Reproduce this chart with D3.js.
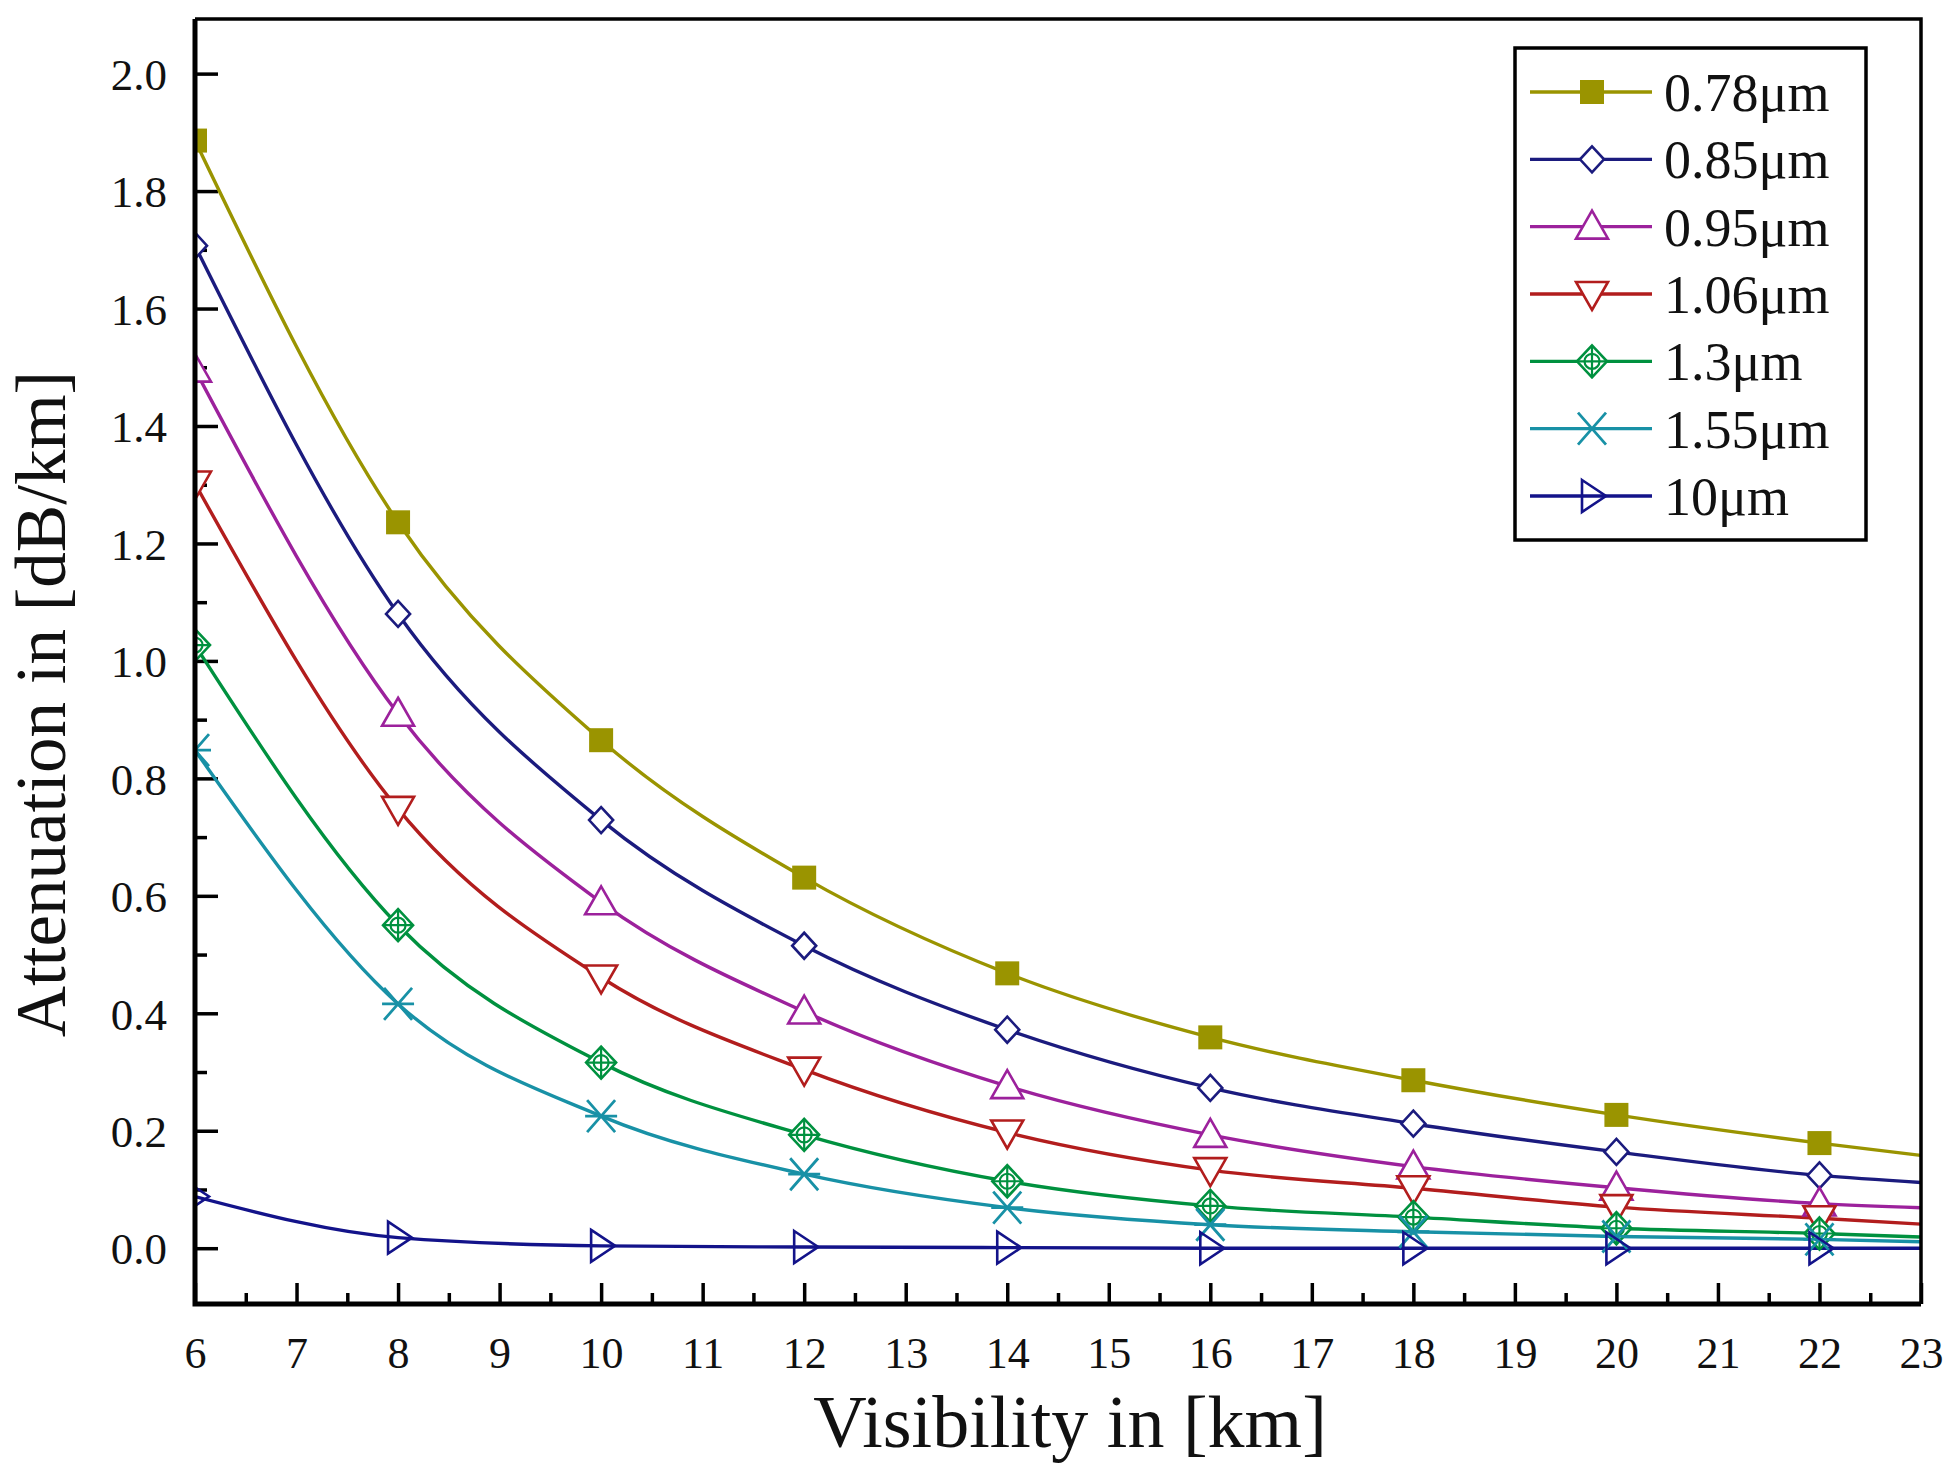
<!DOCTYPE html>
<html>
<head>
<meta charset="utf-8">
<script src="https://cdn.jsdelivr.net/npm/d3@7"></script>
<style>
  body { margin: 0; background: #fff; }
  svg { display: block; }
  text { font-family: "Liberation Serif", "Times New Roman", serif; fill: #111; }
</style>
</head>
<body>
<div id="chart"></div>
<script>
// values (attenuation in dB/km)
const visibility = [6, 8, 10, 12, 14, 16, 18, 20, 22, 23];
const att078 = [1.886, 1.236, 0.865, 0.631, 0.468, 0.359, 0.286, 0.227, 0.179, 0.158];
const att085 = [1.707, 1.080, 0.729, 0.515, 0.372, 0.273, 0.212, 0.164, 0.124, 0.112];
const att095 = [1.496, 0.910, 0.589, 0.403, 0.276, 0.193, 0.139, 0.103, 0.076, 0.069];
const att106 = [1.302, 0.748, 0.461, 0.304, 0.197, 0.133, 0.102, 0.070, 0.051, 0.041];
const att130 = [1.027, 0.550, 0.316, 0.193, 0.114, 0.072, 0.053, 0.034, 0.025, 0.019];
const att155 = [0.848, 0.416, 0.225, 0.126, 0.069, 0.040, 0.028, 0.020, 0.015, 0.011];
const att10 = [0.088, 0.018, 0.004, 0.002, 0.001, 0.0, 0.0, 0.0, 0.0, 0.0];

const seriesNames = ['0.78μm', '0.85μm', '0.95μm', '1.06μm', '1.3μm', '1.55μm', '10μm'];
const seriesValues = [att078, att085, att095, att106, att130, att155, att10];
const seriesColors = ['#9a9400', '#1b1b7e', '#9c219c', '#b21d1d', '#00913f', '#1891a6', '#13138a'];
const seriesSymbols = ['square', 'diamond', 'triUp', 'triDown', 'diamondCross', 'star', 'triRight'];

const xTicks = d3.range(6, 24, 1);
const xMinorTicks = d3.range(6.5, 23, 1);
const yTicks = [0.0, 0.2, 0.4, 0.6, 0.8, 1.0, 1.2, 1.4, 1.6, 1.8, 2.0];
const yMinorTicks = [0.1, 0.3, 0.5, 0.7, 0.9, 1.1, 1.3, 1.5, 1.7, 1.9];

const W = 1950, H = 1474;
const plotL = 195, plotR = 1921, plotT = 19, plotB = 1304;

const svg = d3.select('#chart').append('svg')
  .attr('width', W)
  .attr('height', H);

const x = d3.scaleLinear().domain([6, 23]).range([plotL, plotR]);
const y = d3.scaleLinear().domain([-0.095, 2.093]).range([plotB, plotT]);

svg.append('defs').append('clipPath')
  .attr('id', 'plot-clip')
  .append('rect')
  .attr('x', plotL).attr('y', plotT)
  .attr('width', plotR - plotL).attr('height', plotB - plotT);

// marker shapes
const drawSymbol = (g, type, color) => {
  const sw = 2.6;
  if (type === 'square') {
    g.append('rect').attr('x', -12).attr('y', -12).attr('width', 24).attr('height', 24)
      .attr('fill', color);
  } else if (type === 'diamond') {
    g.append('path').attr('d', 'M0,-13L12,0L0,13L-12,0Z')
      .attr('fill', '#fff').attr('stroke', color).attr('stroke-width', sw);
  } else if (type === 'triUp') {
    g.append('path').attr('d', 'M0,-16L16,12L-16,12Z')
      .attr('fill', '#fff').attr('stroke', color).attr('stroke-width', sw);
  } else if (type === 'triDown') {
    g.append('path').attr('d', 'M0,16L16,-12L-16,-12Z')
      .attr('fill', '#fff').attr('stroke', color).attr('stroke-width', sw);
  } else if (type === 'diamondCross') {
    g.append('path').attr('d', 'M0,-16L15,0L0,16L-15,0Z')
      .attr('fill', '#fff').attr('stroke', color).attr('stroke-width', sw);
    g.append('circle').attr('r', 7.5).attr('fill', 'none').attr('stroke', color).attr('stroke-width', 2.2);
    g.append('path').attr('d', 'M0,-16V16M-15,0H15')
      .attr('stroke', color).attr('stroke-width', 2.2);
  } else if (type === 'star') {
    g.append('path').attr('d', 'M-14,-16L14,16M-14,16L14,-16M-16,0H16')
      .attr('stroke', color).attr('stroke-width', 2.8).attr('fill', 'none');
  } else if (type === 'triRight') {
    g.append('path').attr('d', 'M-10,-16L14,0L-10,16Z')
      .attr('fill', 'none').attr('stroke', color).attr('stroke-width', sw);
  }
};

// axes with inward ticks
const yAxis = d3.axisLeft(y).tickValues(yTicks).tickFormat(d3.format('.1f'))
  .tickSizeInner(-23).tickSizeOuter(0).tickPadding(28);
const yAxisG = svg.append('g').attr('transform', `translate(${plotL},0)`).call(yAxis);
yAxisG.select('.domain').remove();
yAxisG.selectAll('.tick line').attr('stroke', '#000').attr('stroke-width', 3.5);
yAxisG.selectAll('.tick text').style('font-size', '45px').attr('dy', '0.35em');

const yMinor = d3.axisLeft(y).tickValues(yMinorTicks).tickFormat('').tickSizeInner(-12).tickSizeOuter(0);
const yMinorG = svg.append('g').attr('transform', `translate(${plotL},0)`).call(yMinor);
yMinorG.select('.domain').remove();
yMinorG.selectAll('.tick line').attr('stroke', '#000').attr('stroke-width', 3.5);

const xAxis = d3.axisBottom(x).tickValues(xTicks).tickFormat(d3.format('d'))
  .tickSizeInner(-21).tickSizeOuter(0).tickPadding(33);
const xAxisG = svg.append('g').attr('transform', `translate(0,${plotB})`).call(xAxis);
xAxisG.select('.domain').remove();
xAxisG.selectAll('.tick line').attr('stroke', '#000').attr('stroke-width', 3.5);
xAxisG.selectAll('.tick text').style('font-size', '44px');

const xMinor = d3.axisBottom(x).tickValues(xMinorTicks).tickFormat('').tickSizeInner(-11).tickSizeOuter(0);
const xMinorG = svg.append('g').attr('transform', `translate(0,${plotB})`).call(xMinor);
xMinorG.select('.domain').remove();
xMinorG.selectAll('.tick line').attr('stroke', '#000').attr('stroke-width', 3.5);

// series
const line = d3.line()
  .x((d, i) => x(visibility[i]))
  .y(d => y(d))
  .curve(d3.curveMonotoneX);

const plot = svg.append('g').attr('clip-path', 'url(#plot-clip)');

seriesValues.forEach((vals, s) => {
  plot.append('path')
    .datum(vals)
    .attr('d', line)
    .attr('fill', 'none')
    .attr('stroke', seriesColors[s])
    .attr('stroke-width', 3.4);
});

seriesValues.forEach((vals, s) => {
  plot.selectAll(null)
    .data(vals.map((v, i) => ({ x: visibility[i], v })).filter(d => d.x % 2 === 0))
    .enter()
    .append('g')
    .attr('transform', d => `translate(${x(d.x)},${y(d.v)})`)
    .each(function () { drawSymbol(d3.select(this), seriesSymbols[s], seriesColors[s]); });
});

// frame
svg.append('path')
  .attr('d', `M${plotL},${plotT}H${plotR}V${plotB}`)
  .attr('fill', 'none').attr('stroke', '#000').attr('stroke-width', 3.5);
svg.append('path')
  .attr('d', `M${plotL},${plotT}V${plotB}H${plotR}`)
  .attr('fill', 'none').attr('stroke', '#000').attr('stroke-width', 5);

// axis titles
svg.append('text')
  .attr('x', (plotL + plotR) / 2 + 12)
  .attr('y', 1447)
  .attr('text-anchor', 'middle')
  .style('font-size', '74px')
  .text('Visibility in [km]');

svg.append('text')
  .attr('transform', 'translate(65,704) rotate(-90)')
  .attr('text-anchor', 'middle')
  .style('font-size', '71px')
  .text('Attenuation in [dB/km]');

// legend
const legend = svg.append('g').attr('id', 'legend');
legend.append('rect')
  .attr('x', 1515).attr('y', 48).attr('width', 351).attr('height', 492)
  .attr('fill', '#fff').attr('stroke', '#000').attr('stroke-width', 3.5);

const legendY = d3.scalePoint().domain(seriesNames).range([92, 496]);

seriesNames.forEach((name, s) => {
  const row = legend.append('g').attr('transform', `translate(0,${legendY(name)})`);
  row.append('line')
    .attr('x1', 1530).attr('x2', 1652)
    .attr('stroke', seriesColors[s]).attr('stroke-width', 3.4);
  drawSymbol(row.append('g').attr('transform', 'translate(1592,0)'), seriesSymbols[s], seriesColors[s]);
  row.append('text')
    .attr('x', 1664)
    .attr('dy', '0.35em')
    .style('font-size', '54px')
    .text(name);
});
</script>
</body>
</html>
